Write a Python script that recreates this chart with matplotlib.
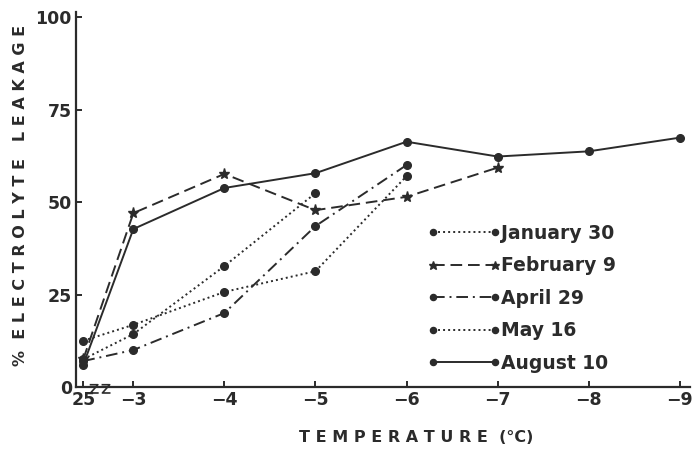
import matplotlib.pyplot as plt
from matplotlib.lines import Line2D

# Temperatures (deg C); 25 is the room-temperature control
temps = [25, -3, -4, -5, -6, -7, -8, -9]
# horizontal slot for each temperature (25 sits close to -3 after the axis break)
slots = [2.45, 3, 4, 5, 6, 7, 8, 9]
tick_labels = ['25', '\u22123', '\u22124', '\u22125', '\u22126', '\u22127', '\u22128', '\u22129']

jan30 = [7.5, 14.3, 32.7, 52.4]
feb9 = [7.5, 47.0, 57.6, 47.8, 51.4, 59.3]
apr29 = [7.0, 10.0, 20.0, 43.5, 60.0]
may16 = [12.5, 16.8, 25.7, 31.3, 57.0]
aug10 = [6.0, 42.7, 53.8, 57.8, 66.3, 62.3, 63.7, 67.4]

ink = '#2b2b2b'
plt.rcParams['font.family'] = ['DejaVu Sans']
plt.rcParams['font.weight'] = 'bold'

fig = plt.figure(figsize=(6.92, 4.59), dpi=100)
ax = fig.add_axes([0.1098, 0.1569, 0.887, 0.818])

series = [
    ('January 30', jan30, dict(linestyle=(0, (1, 1.6)), marker='o')),
    ('February 9', feb9, dict(linestyle=(0, (6, 3)), marker='*', markersize=8)),
    ('April 29', apr29, dict(linestyle=(0, (6, 2.5, 1, 2.5)), marker='o')),
    ('May 16', may16, dict(linestyle=(0, (1, 1.6)), marker='o')),
    ('August 10', aug10, dict(linestyle='-', marker='o')),
]

handles = []
for label, vals, style in series:
    kw = dict(color=ink, linewidth=1.4, markersize=5.5)
    kw.update(style)
    ax.plot(slots[:len(vals)], vals, **kw)
    leg_kw = dict(kw)
    leg_kw['markersize'] = kw['markersize'] * 0.8
    handles.append(Line2D([], [], label=label, **leg_kw))

ax.set_xlim(2.37, 9.11)
ax.set_ylim(0, 101.5)
ax.set_xticks(slots)
ax.set_xticklabels(tick_labels)
ax.set_yticks([0, 25, 50, 75, 100])
for s in ['top', 'right']:
    ax.spines[s].set_visible(False)
for s in ['left', 'bottom']:
    ax.spines[s].set_color(ink)
    ax.spines[s].set_linewidth(1.6)
ax.tick_params(direction='in', length=4, width=1.4, colors=ink,
               labelsize=12.5, pad=3)

# axis break marks on the bottom axis
tr = ax.get_xaxis_transform()
for x0 in (2.57, 2.70):
    ax.plot([x0 - 0.04, x0 + 0.04, x0 - 0.04, x0 + 0.04],
            [0.006, 0.006, -0.016, -0.016], color=ink, lw=1.2,
            transform=tr, clip_on=False)

leg = ax.legend(handles=handles, loc='upper left', bbox_to_anchor=(0.545, 0.48),
                frameon=False, numpoints=2, handlelength=3.9, handletextpad=0.05,
                labelspacing=0.72, prop=dict(size=13.5, weight='bold'))
for t in leg.get_texts():
    t.set_color(ink)

fig.text(0.029, 0.575, '%  E L E C T R O L Y T E   L E A K A G E', rotation=90,
         ha='center', va='center', fontsize=11.5, fontweight='bold', color=ink)
fig.text(0.601, 0.047, 'T E M P E R A T U R E  (\u00b0C)', ha='center', va='center',
         fontsize=11.5, fontweight='bold', color=ink)

fig.savefig('out.png', dpi=100)
